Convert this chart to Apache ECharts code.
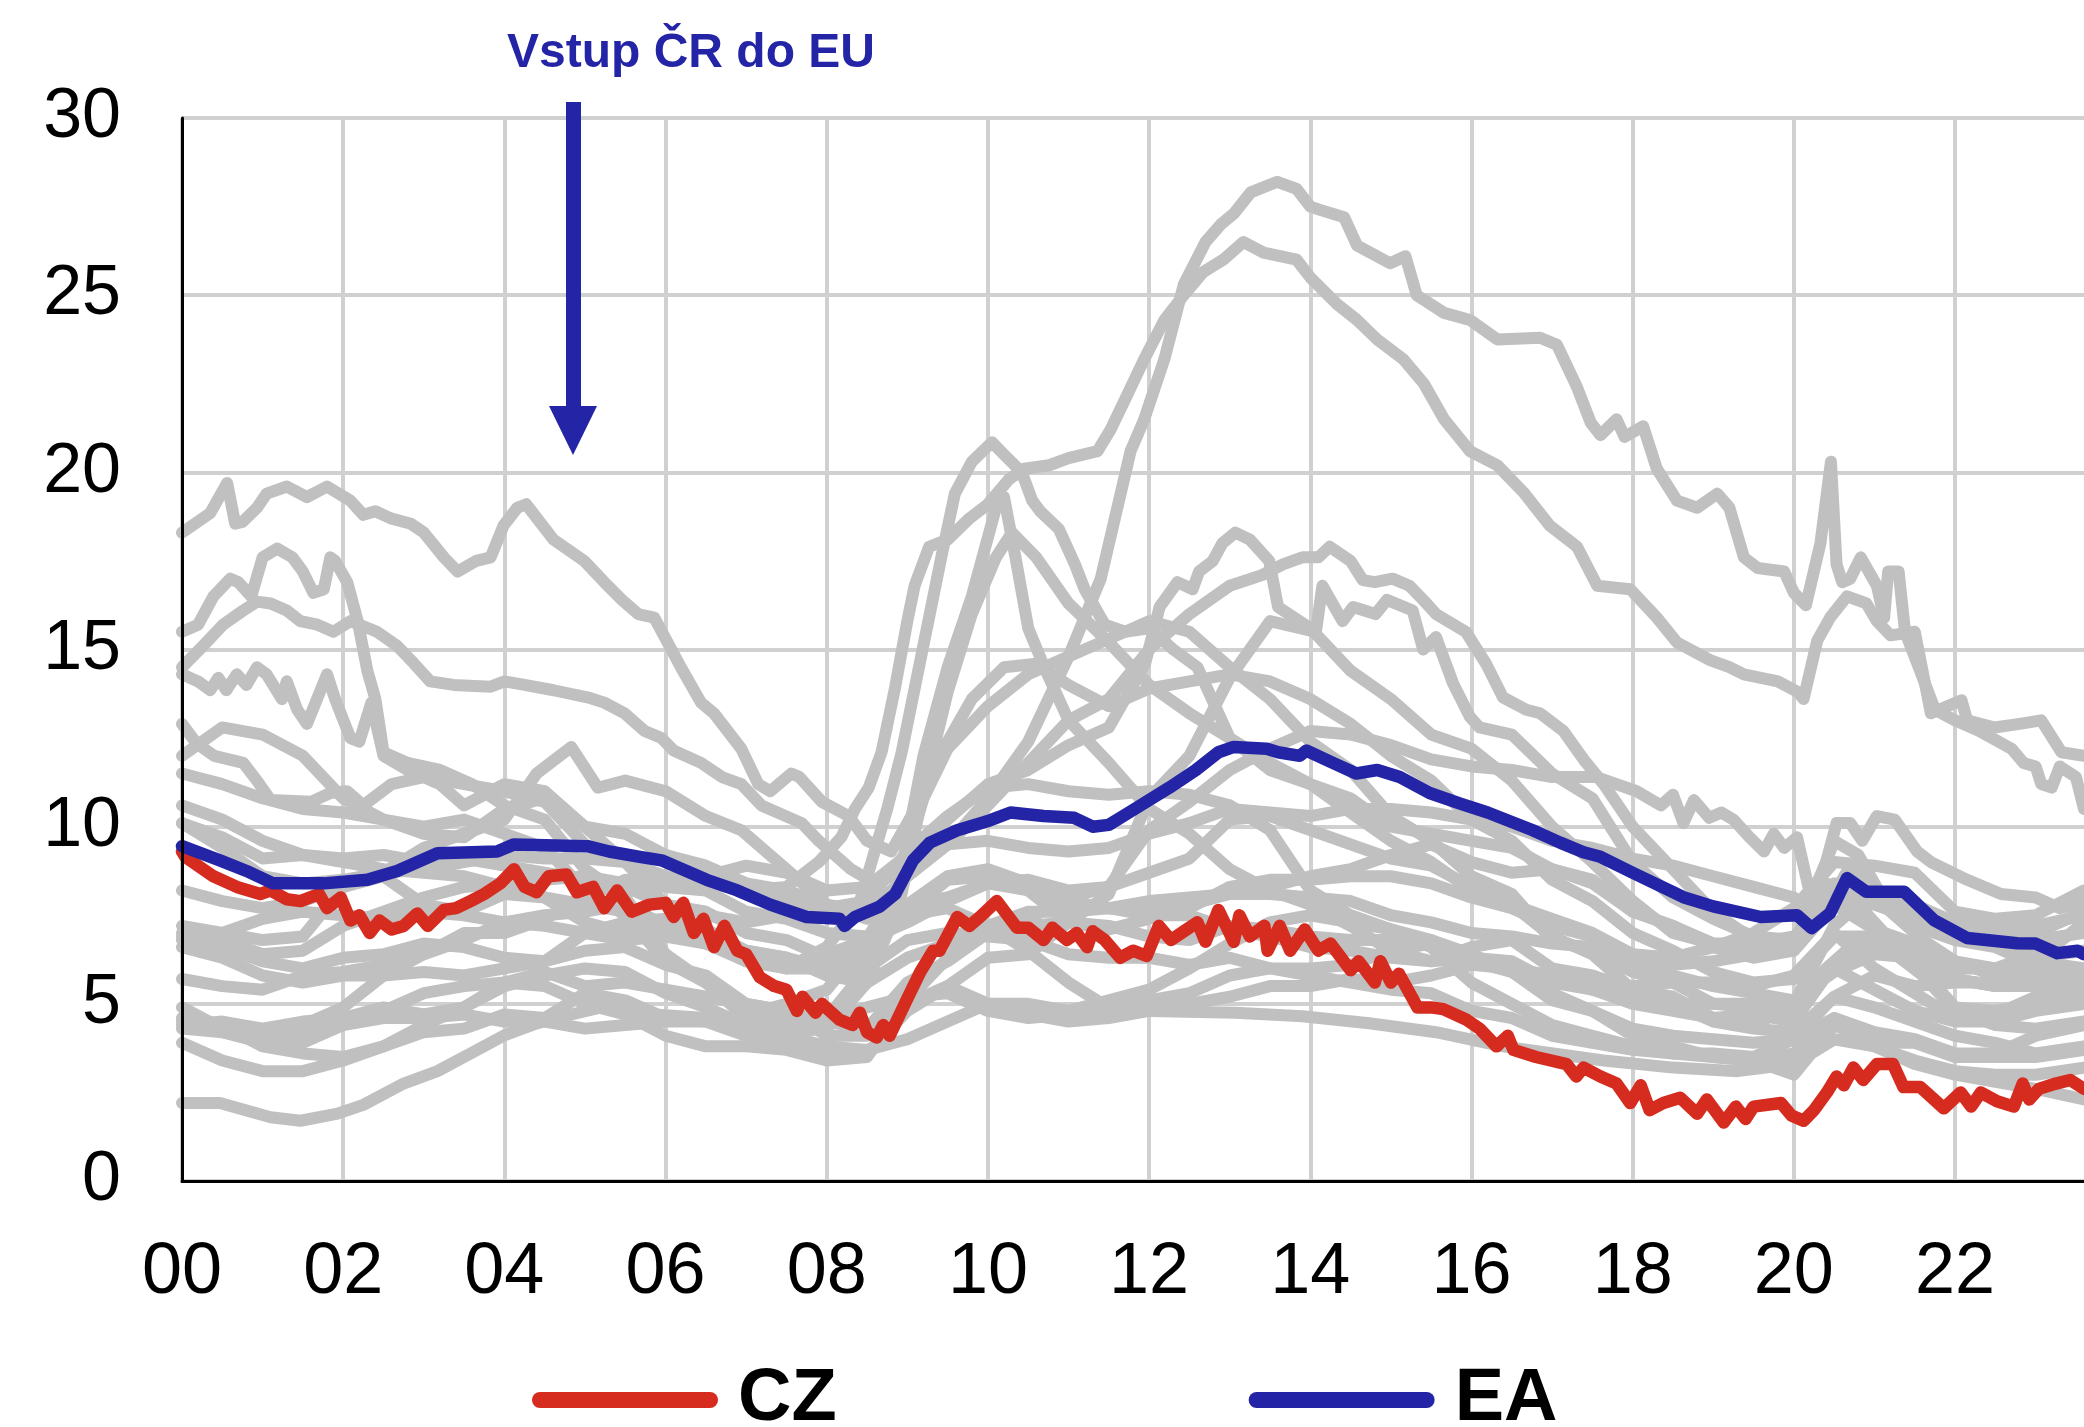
<!DOCTYPE html>
<html>
<head>
<meta charset="utf-8">
<script src="https://cdn.jsdelivr.net/npm/echarts@6.0.0/dist/echarts.min.js"></script>
<style>
  html, body { margin: 0; padding: 0; background: #fff; }
  #main { width: 2084px; height: 1427px; }
</style>
</head>
<body>
<div id="main"></div>
<script>
// nezaměstnanost v zemích EU, CZ a EA (rok, %)
const czLine = [[2000.0,9.3],[2000.04,9.15],[2000.39,8.6],[2000.68,8.3],[2000.97,8.1],[2001.1,8.2],[2001.3,7.95],[2001.47,7.9],[2001.7,8.1],[2001.8,7.7],[2001.97,8.0],[2002.09,7.35],[2002.2,7.5],[2002.33,7.0],[2002.45,7.35],[2002.6,7.1],[2002.75,7.2],[2002.92,7.55],[2003.05,7.2],[2003.25,7.65],[2003.4,7.7],[2003.58,7.9],[2003.75,8.1],[2003.95,8.4],[2004.12,8.8],[2004.25,8.3],[2004.4,8.15],[2004.55,8.6],[2004.77,8.65],[2004.9,8.15],[2005.1,8.3],[2005.24,7.7],[2005.4,8.2],[2005.58,7.6],[2005.8,7.8],[2006.0,7.85],[2006.1,7.45],[2006.22,7.85],[2006.35,7.0],[2006.47,7.4],[2006.6,6.6],[2006.73,7.2],[2006.89,6.5],[2007.0,6.4],[2007.17,5.75],[2007.35,5.5],[2007.5,5.4],[2007.63,4.8],[2007.7,5.2],[2007.86,4.75],[2007.94,5.0],[2008.16,4.55],[2008.32,4.4],[2008.41,4.75],[2008.5,4.2],[2008.62,4.05],[2008.7,4.4],[2008.78,4.1],[2008.99,5.1],[2009.16,5.9],[2009.32,6.5],[2009.4,6.5],[2009.62,7.45],[2009.77,7.2],[2009.9,7.45],[2010.11,7.9],[2010.36,7.15],[2010.5,7.15],[2010.69,6.8],[2010.8,7.15],[2010.98,6.8],[2011.1,7.0],[2011.23,6.6],[2011.3,7.05],[2011.45,6.8],[2011.64,6.3],[2011.8,6.5],[2011.97,6.35],[2012.12,7.2],[2012.27,6.8],[2012.4,7.0],[2012.6,7.3],[2012.7,6.75],[2012.86,7.65],[2013.05,6.75],[2013.12,7.5],[2013.25,6.9],[2013.43,7.2],[2013.47,6.5],[2013.62,7.2],[2013.75,6.5],[2013.93,7.1],[2014.1,6.5],[2014.25,6.7],[2014.5,5.95],[2014.6,6.2],[2014.8,5.6],[2014.87,6.2],[2015.0,5.6],[2015.1,5.85],[2015.33,4.9],[2015.5,4.9],[2015.65,4.85],[2015.94,4.55],[2016.1,4.3],[2016.31,3.8],[2016.45,4.1],[2016.52,3.7],[2016.8,3.5],[2017.18,3.3],[2017.3,2.95],[2017.39,3.2],[2017.6,2.95],[2017.8,2.75],[2017.97,2.2],[2018.1,2.7],[2018.21,2.0],[2018.38,2.2],[2018.59,2.35],[2018.8,1.9],[2018.92,2.3],[2019.13,1.65],[2019.28,2.1],[2019.4,1.75],[2019.5,2.1],[2019.84,2.2],[2019.97,1.85],[2020.12,1.7],[2020.25,2.0],[2020.41,2.5],[2020.53,2.95],[2020.62,2.7],[2020.74,3.2],[2020.86,2.85],[2021.03,3.3],[2021.23,3.3],[2021.36,2.65],[2021.57,2.65],[2021.74,2.3],[2021.86,2.05],[2022.07,2.5],[2022.2,2.1],[2022.32,2.5],[2022.52,2.25],[2022.73,2.1],[2022.84,2.75],[2022.92,2.3],[2023.04,2.6],[2023.25,2.75],[2023.43,2.85],[2023.6,2.6]];

const eaLine = [[2000.0,9.45],[2000.47,9.05],[2000.8,8.75],[2001.13,8.4],[2001.76,8.4],[2002.3,8.5],[2002.67,8.75],[2003.17,9.25],[2003.91,9.3],[2004.12,9.5],[2005.03,9.45],[2005.3,9.3],[2005.68,9.15],[2005.95,9.05],[2006.51,8.5],[2006.89,8.2],[2007.3,7.8],[2007.75,7.45],[2008.16,7.4],[2008.22,7.2],[2008.35,7.45],[2008.66,7.75],[2008.85,8.1],[2009.07,9.05],[2009.28,9.55],[2009.62,9.9],[2009.99,10.15],[2010.28,10.4],[2010.69,10.3],[2011.07,10.25],[2011.3,10.0],[2011.5,10.05],[2011.75,10.4],[2012.25,11.1],[2012.58,11.6],[2012.86,12.1],[2013.05,12.25],[2013.46,12.2],[2013.6,12.1],[2013.87,12.0],[2013.95,12.15],[2014.28,11.8],[2014.57,11.5],[2014.83,11.6],[2015.11,11.4],[2015.48,10.95],[2015.86,10.65],[2016.2,10.4],[2016.76,9.9],[2017.1,9.55],[2017.39,9.28],[2017.6,9.15],[2018.0,8.7],[2018.63,8.01],[2019.0,7.75],[2019.59,7.45],[2020.04,7.5],[2020.22,7.14],[2020.45,7.56],[2020.66,8.55],[2020.9,8.16],[2021.37,8.16],[2021.74,7.36],[2022.15,6.86],[2022.77,6.71],[2023.0,6.7],[2023.27,6.43],[2023.52,6.5],[2023.6,6.4]];

const skLine = [[2000.0,18.3],[2000.35,18.85],[2000.56,19.7],[2000.66,18.55],[2000.75,18.6],[2000.93,19.0],[2001.05,19.4],[2001.3,19.6],[2001.55,19.3],[2001.8,19.6],[2002.09,19.2],[2002.25,18.8],[2002.4,18.9],[2002.59,18.7],[2002.84,18.55],[2003.0,18.3],[2003.25,17.6],[2003.42,17.2],[2003.65,17.5],[2003.83,17.6],[2003.99,18.5],[2004.16,19.0],[2004.27,19.1],[2004.61,18.1],[2004.99,17.5],[2005.24,16.9],[2005.46,16.4],[2005.66,16.0],[2005.86,15.9],[2006.19,14.5],[2006.44,13.5],[2006.6,13.2],[2006.94,12.2],[2007.15,11.2],[2007.3,11.0],[2007.56,11.5],[2007.66,11.4],[2007.94,10.7],[2008.27,10.3],[2008.5,9.6],[2008.8,9.3],[2009.1,10.5],[2009.4,12.0],[2009.8,13.6],[2010.2,14.5],[2010.6,14.6],[2011.0,14.0],[2011.5,13.4],[2012.0,13.9],[2012.5,14.1],[2013.0,14.3],[2013.5,14.1],[2014.0,13.6],[2014.5,12.9],[2015.0,12.0],[2015.5,11.3],[2016.0,10.2],[2016.5,9.6],[2017.0,8.5],[2017.5,7.9],[2018.0,7.0],[2018.5,6.5],[2019.0,5.9],[2019.5,5.6],[2020.0,5.7],[2020.5,6.9],[2021.0,6.9],[2021.5,6.7],[2022.0,6.2],[2022.5,6.0],[2023.0,5.8],[2023.6,5.8]];

const ltLine = [[2000.0,15.5],[2000.2,15.7],[2000.39,16.5],[2000.6,17.0],[2000.7,16.9],[2000.86,16.5],[2001.0,17.6],[2001.18,17.85],[2001.37,17.6],[2001.5,17.2],[2001.63,16.6],[2001.76,16.7],[2001.84,17.6],[2001.9,17.5],[2002.05,16.9],[2002.18,15.8],[2002.3,14.4],[2002.4,13.6],[2002.5,12.1],[2002.8,11.8],[2003.2,11.6],[2003.6,11.2],[2004.0,10.6],[2004.5,10.2],[2005.0,8.8],[2005.5,8.0],[2006.0,6.4],[2006.5,5.6],[2007.0,4.6],[2007.5,4.2],[2008.0,4.3],[2008.5,5.6],[2008.9,7.8],[2009.2,11.0],[2009.5,13.8],[2009.8,16.0],[2010.1,17.6],[2010.3,18.3],[2010.6,17.6],[2011.0,16.3],[2011.5,15.2],[2012.0,14.0],[2012.5,13.2],[2013.0,12.5],[2013.5,11.6],[2014.0,11.2],[2014.5,10.4],[2015.0,9.6],[2015.5,9.0],[2016.0,8.2],[2016.5,7.8],[2017.0,7.4],[2017.5,7.0],[2018.0,6.4],[2018.5,6.1],[2019.0,6.2],[2019.5,6.4],[2020.0,6.6],[2020.5,9.6],[2020.8,9.2],[2021.2,7.6],[2021.6,6.8],[2022.0,6.2],[2022.5,5.8],[2023.0,6.8],[2023.6,7.0]];

const hrLine = [[2000.0,14.5],[2000.26,15.1],[2000.51,15.7],[2000.76,16.1],[2000.93,16.35],[2001.1,16.3],[2001.3,16.1],[2001.47,15.8],[2001.68,15.7],[2001.88,15.5],[2002.09,15.8],[2002.42,15.5],[2002.67,15.1],[2002.88,14.6],[2003.08,14.1],[2003.37,14.0],[2003.83,13.95],[2004.0,14.1],[2004.25,14.0],[2004.61,13.85],[2005.03,13.65],[2005.24,13.5],[2005.49,13.2],[2005.74,12.7],[2005.95,12.5],[2006.1,12.15],[2006.44,11.8],[2006.7,11.4],[2006.94,11.2],[2007.19,10.6],[2007.69,10.1],[2007.9,9.6],[2008.3,8.8],[2008.6,8.4],[2009.0,8.8],[2009.5,9.5],[2010.0,10.6],[2010.5,11.8],[2011.0,13.0],[2011.5,13.6],[2012.0,15.0],[2012.5,16.0],[2013.0,16.8],[2013.4,17.1],[2013.66,17.4],[2013.9,17.6],[2014.1,17.6],[2014.24,17.9],[2014.5,17.5],[2014.65,16.96],[2014.8,16.9],[2015.02,17.0],[2015.23,16.8],[2015.4,16.4],[2015.56,16.0],[2015.93,15.5],[2016.18,14.6],[2016.39,13.65],[2016.68,13.3],[2016.85,13.2],[2017.14,12.7],[2017.39,11.9],[2017.64,11.2],[2018.0,10.0],[2018.5,8.8],[2019.0,7.6],[2019.5,6.8],[2020.0,6.8],[2020.5,7.8],[2021.0,7.8],[2021.5,7.4],[2022.0,7.0],[2022.5,6.7],[2023.0,6.2],[2023.6,6.0]];

const lvLine = [[2000.0,14.3],[2000.2,14.1],[2000.35,13.85],[2000.45,14.2],[2000.55,13.85],[2000.68,14.3],[2000.8,14.0],[2000.93,14.5],[2001.05,14.3],[2001.24,13.6],[2001.3,14.1],[2001.43,13.3],[2001.55,12.9],[2001.8,14.3],[2001.9,13.6],[2002.09,12.5],[2002.2,12.4],[2002.35,13.5],[2002.5,12.0],[2002.8,11.6],[2003.2,11.2],[2003.5,10.6],[2004.0,11.2],[2004.5,11.0],[2005.0,10.0],[2005.5,9.0],[2006.0,7.8],[2006.5,7.0],[2007.0,6.2],[2007.5,6.0],[2008.0,6.6],[2008.4,7.8],[2008.75,10.5],[2008.93,12.1],[2009.18,14.9],[2009.43,17.7],[2009.59,19.4],[2009.8,20.3],[2010.05,20.85],[2010.2,20.5],[2010.42,20.0],[2010.55,19.2],[2010.65,18.9],[2010.88,18.4],[2011.08,17.4],[2011.2,16.7],[2011.45,15.7],[2011.7,15.5],[2012.0,15.6],[2012.3,15.0],[2012.6,14.5],[2013.0,12.5],[2013.5,11.8],[2014.0,11.2],[2014.5,10.8],[2015.0,10.0],[2015.5,9.8],[2016.0,9.6],[2016.5,9.4],[2017.0,8.8],[2017.5,8.5],[2018.0,7.6],[2018.5,7.2],[2019.0,6.6],[2019.5,6.3],[2020.0,6.5],[2020.4,8.4],[2020.8,8.0],[2021.3,7.6],[2021.8,7.3],[2022.3,7.0],[2022.8,6.7],[2023.3,6.4],[2023.6,6.5]];

const esLine = [[2000.0,12.9],[2000.18,12.35],[2000.4,12.0],[2000.76,11.8],[2000.93,11.3],[2001.1,10.75],[2001.6,10.7],[2001.84,10.95],[2002.05,11.0],[2002.25,10.6],[2002.6,11.2],[2003.0,11.4],[2003.5,11.2],[2004.0,11.0],[2004.5,10.7],[2005.0,9.5],[2005.5,9.0],[2006.0,8.6],[2006.5,8.4],[2007.0,8.2],[2007.5,8.3],[2007.9,9.0],[2008.18,9.7],[2008.35,10.5],[2008.52,11.1],[2008.68,12.1],[2008.85,13.95],[2009.0,15.8],[2009.09,16.8],[2009.27,17.9],[2009.5,18.1],[2009.77,18.7],[2010.0,19.1],[2010.26,19.8],[2010.45,20.1],[2010.76,20.2],[2011.0,20.4],[2011.36,20.6],[2011.52,21.2],[2011.69,22.0],[2011.94,23.2],[2012.19,24.3],[2012.43,25.0],[2012.67,25.65],[2012.92,26.0],[2013.17,26.5],[2013.42,26.2],[2013.83,26.0],[2014.0,25.5],[2014.33,24.75],[2014.58,24.3],[2014.83,23.75],[2015.15,23.2],[2015.41,22.5],[2015.66,21.5],[2015.98,20.6],[2016.32,20.2],[2016.64,19.45],[2016.97,18.5],[2017.31,17.9],[2017.56,16.8],[2017.97,16.7],[2018.3,15.9],[2018.55,15.2],[2018.96,14.7],[2019.2,14.5],[2019.38,14.3],[2019.8,14.1],[2020.05,13.8],[2020.12,13.6],[2020.29,15.25],[2020.45,15.9],[2020.66,16.5],[2020.9,16.3],[2021.03,15.8],[2021.2,15.4],[2021.5,15.5],[2021.7,13.2],[2022.08,13.57],[2022.15,13.0],[2022.49,12.8],[2022.8,12.9],[2023.07,13.0],[2023.32,12.1],[2023.6,12.0]];

const elLine = [[2000.0,11.5],[2000.5,11.2],[2001.0,10.8],[2001.5,10.5],[2002.0,10.4],[2002.5,10.2],[2003.0,9.8],[2003.5,9.7],[2004.0,10.5],[2004.5,10.8],[2005.0,10.0],[2005.5,9.8],[2006.0,9.2],[2006.5,8.8],[2007.0,8.4],[2007.5,8.2],[2008.0,7.8],[2008.5,7.6],[2009.0,8.6],[2009.5,9.5],[2010.0,10.8],[2010.5,12.4],[2011.0,14.8],[2011.4,17.0],[2011.77,20.6],[2011.94,21.5],[2012.19,23.2],[2012.43,25.3],[2012.7,26.5],[2012.89,27.0],[2013.05,27.3],[2013.26,27.9],[2013.59,28.2],[2013.83,28.0],[2014.0,27.5],[2014.13,27.4],[2014.42,27.2],[2014.58,26.4],[2014.99,25.9],[2015.18,26.1],[2015.32,25.0],[2015.66,24.5],[2015.98,24.3],[2016.32,23.75],[2016.85,23.8],[2017.06,23.6],[2017.31,22.4],[2017.48,21.4],[2017.6,21.05],[2017.8,21.5],[2017.9,21.0],[2018.13,21.3],[2018.3,20.1],[2018.55,19.2],[2018.8,19.0],[2019.05,19.4],[2019.2,19.0],[2019.38,17.6],[2019.55,17.3],[2019.88,17.2],[2020.0,16.6],[2020.15,16.25],[2020.33,18.0],[2020.46,20.3],[2020.53,17.4],[2020.6,16.9],[2020.7,17.0],[2020.83,17.6],[2021.03,16.8],[2021.12,15.9],[2021.17,17.2],[2021.3,17.2],[2021.38,15.5],[2021.55,14.5],[2021.75,13.3],[2022.0,13.0],[2022.3,12.7],[2022.7,12.2],[2022.85,11.8],[2023.0,11.7],[2023.07,11.2],[2023.2,11.1],[2023.3,11.7],[2023.5,11.4],[2023.6,10.5]];

const eeLine = [[2000.0,12.0],[2000.5,12.8],[2001.0,12.6],[2001.5,12.0],[2002.0,10.8],[2002.5,10.2],[2003.0,10.0],[2003.5,10.2],[2004.0,9.8],[2004.5,9.4],[2005.0,8.2],[2005.5,7.5],[2006.0,6.2],[2006.5,5.6],[2007.0,4.8],[2007.5,4.5],[2008.0,4.6],[2008.5,6.0],[2008.9,8.5],[2009.2,12.0],[2009.5,14.5],[2009.8,16.5],[2010.1,19.0],[2010.2,19.3],[2010.35,17.5],[2010.5,15.6],[2010.7,14.5],[2011.0,13.0],[2011.5,11.8],[2012.0,10.5],[2012.5,9.8],[2013.0,8.8],[2013.5,8.2],[2014.0,7.8],[2014.5,7.2],[2015.0,6.5],[2015.5,6.2],[2016.0,6.6],[2016.5,6.8],[2017.0,6.0],[2017.5,5.8],[2018.0,5.4],[2018.5,5.2],[2019.0,4.6],[2019.5,4.4],[2020.0,5.0],[2020.5,7.2],[2020.8,7.8],[2021.2,6.8],[2021.7,6.0],[2022.0,5.7],[2022.5,5.5],[2023.0,6.2],[2023.6,7.3]];

const ptLine = [[2000.0,4.9],[2000.5,4.3],[2001.0,4.2],[2001.5,4.4],[2002.0,4.9],[2002.5,5.8],[2003.0,6.4],[2003.5,7.0],[2004.0,7.0],[2004.5,7.4],[2005.0,8.0],[2005.5,8.5],[2006.0,8.4],[2006.5,8.6],[2007.0,8.9],[2007.5,8.7],[2008.0,8.2],[2008.5,8.3],[2009.0,9.2],[2009.5,10.2],[2010.0,11.2],[2010.5,11.6],[2011.0,12.3],[2011.5,12.8],[2011.95,14.6],[2012.13,16.2],[2012.35,16.9],[2012.54,16.7],[2012.62,17.2],[2012.79,17.5],[2012.91,18.0],[2013.07,18.3],[2013.25,18.1],[2013.37,17.8],[2013.49,17.5],[2013.6,16.2],[2014.0,15.6],[2014.5,14.4],[2015.0,13.6],[2015.5,12.6],[2016.0,12.2],[2016.5,11.3],[2017.0,10.0],[2017.5,9.0],[2018.0,7.9],[2018.5,7.0],[2019.0,6.7],[2019.5,6.5],[2020.0,6.5],[2020.5,7.8],[2021.0,7.1],[2021.5,6.7],[2022.0,6.0],[2022.5,6.0],[2023.0,6.4],[2023.6,6.5]];

const cyLine = [[2000.0,4.6],[2000.5,4.4],[2001.0,3.8],[2001.5,3.6],[2002.0,3.5],[2002.5,3.8],[2003.0,4.2],[2003.5,4.3],[2004.0,4.7],[2004.5,4.6],[2005.0,5.3],[2005.5,5.1],[2006.0,4.6],[2006.5,4.5],[2007.0,4.1],[2007.5,3.8],[2008.0,3.7],[2008.5,3.6],[2009.0,4.8],[2009.5,5.5],[2010.0,6.3],[2010.5,6.4],[2011.0,7.3],[2011.5,8.1],[2012.0,10.8],[2012.5,12.0],[2013.0,14.2],[2013.5,15.8],[2014.07,15.5],[2014.15,16.8],[2014.4,15.8],[2014.53,16.2],[2014.81,16.0],[2014.95,16.4],[2015.27,16.1],[2015.4,15.0],[2015.56,15.35],[2015.77,14.05],[2015.98,13.1],[2016.1,12.8],[2016.5,12.6],[2017.0,11.5],[2017.5,10.8],[2018.0,9.0],[2018.5,8.0],[2019.0,7.4],[2019.5,6.9],[2020.0,6.8],[2020.5,8.4],[2021.0,7.9],[2021.5,7.2],[2022.0,6.8],[2022.5,6.6],[2023.0,6.1],[2023.6,5.9]];

const ieLine = [[2000.0,4.3],[2000.5,4.2],[2001.0,3.9],[2001.5,3.9],[2002.0,4.4],[2002.5,4.6],[2003.0,4.6],[2003.5,4.7],[2004.0,4.5],[2004.5,4.5],[2005.0,4.3],[2005.5,4.4],[2006.0,4.5],[2006.5,4.5],[2007.0,4.7],[2007.5,5.0],[2008.0,5.4],[2008.5,6.8],[2008.9,8.5],[2009.2,10.8],[2009.5,12.2],[2010.0,13.4],[2010.5,14.3],[2011.0,14.8],[2011.5,15.3],[2012.0,15.8],[2012.5,15.5],[2013.0,14.5],[2013.5,13.6],[2014.0,12.4],[2014.5,11.6],[2015.0,10.3],[2015.5,9.6],[2016.0,8.6],[2016.5,8.1],[2017.0,6.8],[2017.5,6.5],[2018.0,5.9],[2018.5,5.6],[2019.0,5.0],[2019.5,4.9],[2020.0,4.8],[2020.4,6.0],[2020.8,6.8],[2021.2,6.5],[2021.6,5.8],[2022.0,4.8],[2022.5,4.4],[2023.0,4.3],[2023.6,4.5]];

const itLine = [[2000.0,10.6],[2000.5,10.2],[2001.0,9.6],[2001.5,9.2],[2002.0,9.0],[2002.5,8.8],[2003.0,8.7],[2003.5,8.6],[2004.0,8.3],[2004.5,8.0],[2005.0,7.8],[2005.5,7.6],[2006.0,7.1],[2006.5,6.7],[2007.0,6.2],[2007.5,6.1],[2008.0,6.4],[2008.5,6.8],[2009.0,7.3],[2009.5,7.9],[2010.0,8.4],[2010.5,8.5],[2011.0,8.2],[2011.5,8.3],[2012.0,9.9],[2012.5,10.7],[2013.0,11.6],[2013.5,12.2],[2014.0,12.7],[2014.5,12.6],[2015.0,12.3],[2015.5,11.9],[2016.0,11.7],[2016.5,11.6],[2017.0,11.4],[2017.55,11.4],[2018.05,11.0],[2018.35,10.6],[2018.5,10.9],[2018.63,10.1],[2018.76,10.75],[2018.95,10.25],[2019.1,10.4],[2019.25,10.2],[2019.45,9.7],[2019.63,9.3],[2019.75,9.8],[2019.88,9.4],[2020.04,9.7],[2020.21,8.0],[2020.4,9.0],[2020.53,10.1],[2020.7,10.1],[2020.85,9.6],[2021.03,10.3],[2021.25,10.2],[2021.53,9.3],[2021.7,9.0],[2022.15,8.5],[2022.57,8.1],[2023.0,8.0],[2023.3,7.7],[2023.6,7.85]];

const frLine = [[2000.0,10.1],[2000.5,9.4],[2001.0,8.6],[2001.5,8.4],[2002.0,8.5],[2002.5,8.7],[2003.0,8.8],[2003.5,9.0],[2004.0,9.2],[2004.5,9.1],[2005.0,9.1],[2005.5,9.0],[2006.0,9.2],[2006.5,8.9],[2007.0,8.4],[2007.5,8.0],[2008.0,7.5],[2008.5,7.5],[2009.0,8.6],[2009.5,9.5],[2010.0,9.6],[2010.5,9.4],[2011.0,9.3],[2011.5,9.4],[2012.0,9.8],[2012.5,10.1],[2013.0,10.5],[2013.5,10.4],[2014.0,10.3],[2014.5,10.5],[2015.0,10.5],[2015.5,10.4],[2016.0,10.2],[2016.5,10.0],[2017.0,9.6],[2017.5,9.4],[2018.0,9.1],[2018.5,8.9],[2019.0,8.6],[2019.5,8.3],[2020.0,8.0],[2020.3,7.3],[2020.7,8.9],[2021.0,8.0],[2021.5,7.8],[2022.0,7.3],[2022.5,7.2],[2023.0,7.2],[2023.6,7.5]];

const fiLine = [[2000.0,10.1],[2000.5,9.7],[2001.0,9.1],[2001.5,9.2],[2002.0,9.1],[2002.5,9.2],[2003.0,9.0],[2003.5,9.1],[2004.0,8.9],[2004.5,8.7],[2005.0,8.5],[2005.5,8.3],[2006.0,7.8],[2006.5,7.6],[2007.0,7.0],[2007.5,6.8],[2008.0,6.3],[2008.5,6.4],[2009.0,7.6],[2009.5,8.5],[2010.0,8.6],[2010.5,8.3],[2011.0,7.9],[2011.5,7.7],[2012.0,7.6],[2012.5,7.8],[2013.0,8.1],[2013.5,8.3],[2014.0,8.6],[2014.5,8.8],[2015.0,9.2],[2015.5,9.5],[2016.0,9.0],[2016.5,8.7],[2017.0,8.8],[2017.5,8.4],[2018.0,7.6],[2018.5,7.2],[2019.0,6.7],[2019.5,6.7],[2020.0,6.9],[2020.5,8.0],[2021.0,7.9],[2021.5,7.5],[2022.0,6.9],[2022.5,6.9],[2023.0,7.0],[2023.6,7.6]];

const deLine = [[2000.0,8.2],[2000.5,7.9],[2001.0,7.7],[2001.5,7.9],[2002.0,8.3],[2002.5,8.7],[2003.0,9.4],[2003.5,9.8],[2004.0,10.2],[2004.4,11.5],[2004.83,12.25],[2005.16,11.1],[2005.5,11.3],[2006.0,11.0],[2006.5,10.3],[2006.94,9.9],[2007.5,8.8],[2008.0,7.8],[2008.5,7.4],[2009.0,7.5],[2009.5,7.7],[2010.0,7.2],[2010.5,6.5],[2011.0,5.6],[2011.42,5.0],[2012.0,4.8],[2013.07,4.75],[2013.9,4.65],[2014.73,4.45],[2015.56,4.2],[2016.39,3.8],[2017.64,3.4],[2018.5,3.2],[2019.3,3.1],[2020.0,3.3],[2020.5,4.0],[2021.0,3.8],[2021.5,3.4],[2022.0,3.1],[2022.5,3.0],[2023.0,3.0],[2023.6,3.2]];

const beLine = [[2000.0,7.0],[2000.5,6.8],[2001.0,6.4],[2001.5,6.5],[2002.0,7.2],[2002.5,7.6],[2003.0,8.0],[2003.5,8.3],[2004.0,8.4],[2004.5,8.5],[2005.0,8.6],[2005.5,8.4],[2006.0,8.3],[2006.5,8.2],[2007.0,7.6],[2007.5,7.4],[2008.0,7.0],[2008.5,6.9],[2009.0,7.8],[2009.5,8.0],[2010.0,8.4],[2010.5,8.2],[2011.0,7.3],[2011.5,7.1],[2012.0,7.4],[2012.5,7.7],[2013.0,8.3],[2013.5,8.5],[2014.0,8.5],[2014.5,8.6],[2015.0,8.6],[2015.5,8.4],[2016.0,8.0],[2016.5,7.7],[2017.0,7.2],[2017.5,6.9],[2018.0,6.2],[2018.5,5.8],[2019.0,5.5],[2019.5,5.3],[2020.0,5.1],[2020.5,5.9],[2021.0,6.4],[2021.5,6.3],[2022.0,5.7],[2022.5,5.5],[2023.0,5.5],[2023.6,5.6]];

const nlLine = [[2000.0,3.9],[2000.5,3.4],[2001.0,3.1],[2001.5,3.1],[2002.0,3.4],[2002.5,3.8],[2003.0,4.4],[2003.5,4.9],[2004.0,5.5],[2004.5,5.8],[2005.0,6.0],[2005.5,5.9],[2006.0,5.3],[2006.5,4.9],[2007.0,4.4],[2007.5,4.1],[2008.0,3.8],[2008.5,3.7],[2009.0,4.0],[2009.5,4.5],[2010.0,5.0],[2010.5,5.0],[2011.0,4.8],[2011.5,5.1],[2012.0,5.4],[2012.5,6.0],[2013.0,6.7],[2013.5,7.3],[2014.0,7.5],[2014.5,7.3],[2015.0,7.1],[2015.5,6.8],[2016.0,6.4],[2016.5,5.9],[2017.0,5.3],[2017.5,4.8],[2018.0,4.1],[2018.5,3.8],[2019.0,3.5],[2019.5,3.4],[2020.0,3.0],[2020.5,4.4],[2021.0,3.9],[2021.5,3.9],[2022.0,3.5],[2022.5,3.5],[2023.0,3.5],[2023.6,3.7]];

const atLine = [[2000.0,4.5],[2000.5,4.2],[2001.0,4.0],[2001.5,4.2],[2002.0,4.6],[2002.5,4.9],[2003.0,4.7],[2003.5,4.9],[2004.0,5.6],[2004.5,5.9],[2005.0,5.5],[2005.5,5.6],[2006.0,5.4],[2006.5,5.2],[2007.0,5.0],[2007.5,4.8],[2008.0,4.1],[2008.5,4.1],[2009.0,5.0],[2009.5,5.5],[2010.0,5.0],[2010.5,4.7],[2011.0,4.5],[2011.5,4.6],[2012.0,4.8],[2012.5,5.0],[2013.0,5.2],[2013.5,5.5],[2014.0,5.5],[2014.5,5.7],[2015.0,5.6],[2015.5,5.8],[2016.0,6.1],[2016.5,6.0],[2017.0,5.7],[2017.5,5.4],[2018.0,5.0],[2018.5,4.8],[2019.0,4.6],[2019.5,4.7],[2020.0,4.5],[2020.5,6.1],[2021.0,6.8],[2021.5,6.2],[2022.0,4.9],[2022.5,4.8],[2023.0,5.0],[2023.6,5.3]];

const luLine = [[2000.0,2.2],[2000.47,2.2],[2001.1,1.8],[2001.47,1.7],[2001.93,1.9],[2002.25,2.15],[2002.75,2.75],[2003.17,3.1],[2003.58,3.6],[2003.99,4.1],[2004.4,4.45],[2004.83,4.7],[2005.2,4.9],[2005.86,4.7],[2006.5,4.6],[2007.0,4.3],[2007.5,4.1],[2008.0,4.5],[2008.5,4.9],[2009.0,5.2],[2009.5,5.3],[2010.0,4.8],[2010.5,4.6],[2011.0,4.7],[2011.5,4.9],[2012.0,5.1],[2012.5,5.3],[2013.0,5.8],[2013.5,6.0],[2014.0,6.0],[2014.5,6.1],[2015.0,6.5],[2015.5,6.7],[2016.0,6.3],[2016.5,6.2],[2017.0,5.6],[2017.5,5.4],[2018.0,5.5],[2018.5,5.6],[2019.0,5.6],[2019.5,5.5],[2020.0,5.8],[2020.5,7.0],[2021.0,6.0],[2021.5,5.3],[2022.0,4.6],[2022.5,4.7],[2023.0,5.2],[2023.6,5.6]];

const dkLine = [[2000.0,4.4],[2000.5,4.5],[2001.0,4.3],[2001.5,4.5],[2002.0,4.6],[2002.5,4.8],[2003.0,5.3],[2003.5,5.5],[2004.0,5.6],[2004.5,5.5],[2005.0,5.0],[2005.5,4.7],[2006.0,4.1],[2006.5,3.8],[2007.0,3.8],[2007.5,3.7],[2008.0,3.4],[2008.5,3.5],[2009.0,5.1],[2009.5,6.3],[2010.0,7.2],[2010.5,7.6],[2011.0,7.6],[2011.5,7.7],[2012.0,7.5],[2012.5,7.5],[2013.0,7.1],[2013.5,6.9],[2014.0,6.6],[2014.5,6.5],[2015.0,6.3],[2015.5,6.2],[2016.0,6.3],[2016.5,6.0],[2017.0,5.8],[2017.5,5.6],[2018.0,5.2],[2018.5,5.0],[2019.0,5.0],[2019.5,5.0],[2020.0,4.9],[2020.5,6.0],[2021.0,5.4],[2021.5,4.8],[2022.0,4.5],[2022.5,4.5],[2023.0,4.8],[2023.6,5.0]];

const seLine = [[2000.0,5.7],[2000.5,5.5],[2001.0,5.4],[2001.5,5.8],[2002.0,5.9],[2002.5,6.1],[2003.0,6.4],[2003.5,6.8],[2004.0,7.3],[2004.5,7.5],[2005.0,7.6],[2005.5,7.8],[2006.0,7.2],[2006.5,7.0],[2007.0,6.3],[2007.5,6.0],[2008.0,6.0],[2008.5,6.3],[2009.0,7.8],[2009.5,8.6],[2010.0,8.8],[2010.5,8.4],[2011.0,7.8],[2011.5,7.7],[2012.0,7.9],[2012.5,8.0],[2013.0,8.1],[2013.5,8.1],[2014.0,8.0],[2014.5,7.9],[2015.0,7.5],[2015.5,7.3],[2016.0,7.0],[2016.5,6.9],[2017.0,6.7],[2017.5,6.6],[2018.0,6.4],[2018.5,6.3],[2019.0,6.6],[2019.5,7.0],[2020.0,7.7],[2020.5,9.0],[2021.0,8.9],[2021.5,8.7],[2022.0,7.6],[2022.5,7.4],[2023.0,7.5],[2023.6,8.2]];

const siLine = [[2000.0,6.9],[2000.5,6.6],[2001.0,6.2],[2001.5,6.0],[2002.0,6.3],[2002.5,6.4],[2003.0,6.7],[2003.5,6.6],[2004.0,6.3],[2004.5,6.2],[2005.0,6.5],[2005.5,6.6],[2006.0,6.1],[2006.5,5.8],[2007.0,5.0],[2007.5,4.8],[2008.0,4.5],[2008.5,4.3],[2009.0,5.6],[2009.5,6.2],[2010.0,7.0],[2010.5,7.4],[2011.0,8.0],[2011.5,8.3],[2012.0,8.7],[2012.5,9.1],[2013.0,10.2],[2013.5,10.3],[2014.0,9.9],[2014.5,9.5],[2015.0,9.1],[2015.5,8.9],[2016.0,8.3],[2016.5,7.8],[2017.0,6.9],[2017.5,6.4],[2018.0,5.4],[2018.5,5.0],[2019.0,4.5],[2019.5,4.3],[2020.0,4.2],[2020.5,5.2],[2021.0,4.9],[2021.5,4.5],[2022.0,4.1],[2022.5,3.9],[2023.0,3.6],[2023.6,3.8]];

const huLine = [[2000.0,6.6],[2000.5,6.3],[2001.0,5.8],[2001.5,5.6],[2002.0,5.8],[2002.5,5.8],[2003.0,5.9],[2003.5,5.8],[2004.0,6.0],[2004.5,6.2],[2005.0,7.0],[2005.5,7.3],[2006.0,7.4],[2006.5,7.5],[2007.0,7.3],[2007.5,7.5],[2008.0,7.7],[2008.5,7.9],[2009.0,9.3],[2009.5,10.3],[2010.0,11.1],[2010.5,11.2],[2011.0,11.0],[2011.5,10.9],[2012.0,11.0],[2012.5,10.9],[2013.0,10.6],[2013.5,9.9],[2014.0,8.2],[2014.5,7.5],[2015.0,7.1],[2015.5,6.6],[2016.0,5.6],[2016.5,5.0],[2017.0,4.4],[2017.5,4.1],[2018.0,3.8],[2018.5,3.6],[2019.0,3.5],[2019.5,3.4],[2020.0,3.6],[2020.5,4.6],[2021.0,4.2],[2021.5,4.0],[2022.0,3.6],[2022.5,3.6],[2023.0,4.1],[2023.6,4.4]];

const mtLine = [[2000.0,6.8],[2000.5,7.0],[2001.0,7.4],[2001.5,7.6],[2002.0,7.5],[2002.5,7.4],[2003.0,7.6],[2003.5,7.5],[2004.0,7.3],[2004.5,7.2],[2005.0,7.0],[2005.5,6.8],[2006.0,6.9],[2006.5,6.7],[2007.0,6.5],[2007.5,6.3],[2008.0,6.0],[2008.5,6.0],[2009.0,6.8],[2009.5,7.0],[2010.0,6.9],[2010.5,6.8],[2011.0,6.4],[2011.5,6.3],[2012.0,6.3],[2012.5,6.1],[2013.0,6.3],[2013.5,6.0],[2014.0,5.8],[2014.5,5.6],[2015.0,5.4],[2015.5,5.3],[2016.0,4.8],[2016.5,4.6],[2017.0,4.1],[2017.5,3.9],[2018.0,3.7],[2018.5,3.6],[2019.0,3.6],[2019.5,3.5],[2020.0,4.0],[2020.5,4.6],[2021.0,3.8],[2021.5,3.3],[2022.0,3.0],[2022.5,2.8],[2023.0,2.6],[2023.6,2.3]];

const roLine = [[2000.0,7.2],[2000.5,7.0],[2001.0,6.8],[2001.5,6.9],[2002.0,8.3],[2002.5,8.6],[2003.0,7.8],[2003.5,7.6],[2004.0,8.1],[2004.5,8.0],[2005.0,7.3],[2005.5,7.0],[2006.0,7.3],[2006.5,7.1],[2007.0,6.5],[2007.5,6.3],[2008.0,5.8],[2008.5,5.6],[2009.0,6.3],[2009.5,6.7],[2010.0,7.0],[2010.5,7.2],[2011.0,7.3],[2011.5,7.2],[2012.0,6.9],[2012.5,6.8],[2013.0,7.2],[2013.5,7.1],[2014.0,6.9],[2014.5,6.8],[2015.0,6.8],[2015.5,6.8],[2016.0,6.2],[2016.5,5.9],[2017.0,5.1],[2017.5,4.8],[2018.0,4.3],[2018.5,4.1],[2019.0,4.0],[2019.5,3.9],[2020.0,4.0],[2020.5,5.2],[2021.0,5.8],[2021.5,5.5],[2022.0,5.6],[2022.5,5.6],[2023.0,5.6],[2023.6,5.4]];

const otherLines = [skLine, ltLine, hrLine, lvLine, esLine, elLine, eeLine, ptLine, cyLine, ieLine,
  itLine, frLine, fiLine, deLine, beLine, nlLine, atLine, luLine, dkLine, seLine, siLine, huLine, mtLine, roLine];

const yTicks = { min: 0, max: 30, step: 5 };
const xRange = { min: 2000, max: 2023.6, step: 2 };

const FONT = '"Liberation Sans", Arial, sans-serif';
const BLUE = '#2424a6';
const RED = '#d62b1f';
const GREY = '#c0c0c0';
const pill = 'path://M8,0 L178,0 A8,8 0 0 1 178,16 L8,16 A8,8 0 0 1 8,0 Z';

let chartDom = document.getElementById('main');
let myChart = echarts.init(chartDom, null, { renderer: 'canvas' });

let series = otherLines.map(function (d, i) {
  return {
    name: 'g' + i,
    type: 'line',
    data: d,
    showSymbol: false,
    symbol: 'none',
    silent: true,
    z: 2,
    lineStyle: { width: 12, color: GREY, cap: 'round', join: 'round' }
  };
});
series.push({
  name: 'CZ', type: 'line', data: czLine, showSymbol: false, symbol: 'none', z: 5,
  itemStyle: { color: RED },
  lineStyle: { width: 12.5, color: RED, cap: 'round', join: 'round' }
});
series.push({
  name: 'EA', type: 'line', data: eaLine, showSymbol: false, symbol: 'none', z: 6,
  itemStyle: { color: BLUE },
  lineStyle: { width: 12.5, color: BLUE, cap: 'round', join: 'round' }
});

let option = {
  animation: false,
  backgroundColor: '#fff',
  grid: { left: 182, top: 118, right: 0, bottom: 246, containLabel: false },
  legend: {
    data: [{ name: 'CZ', icon: pill }, { name: 'EA', icon: pill }],
    left: 532,
    top: 1363,
    padding: 0,
    itemWidth: 186,
    itemHeight: 16,
    itemGap: 412,
    textStyle: { fontSize: 74, fontWeight: 'bold', fontFamily: FONT, color: '#000', lineHeight: 74, padding: [0, 0, 0, 15] }
  },
  xAxis: [{
    type: 'value',
    min: xRange.min,
    max: xRange.max,
    interval: xRange.step,
    axisLine: { show: false },
    axisTick: { show: false },
    axisLabel: {
      margin: 56,
      fontSize: 72,
      fontFamily: FONT,
      color: '#000',
      showMaxLabel: false,
      formatter: function (v) { return String(Math.round(v) % 100).padStart(2, '0'); }
    },
    splitLine: { show: true, showMaxLine: false, lineStyle: { color: '#d0d0d0', width: 4 } }
  }, {
    type: 'value', min: xRange.min, max: xRange.max, position: 'bottom', z: 10,
    axisLine: { show: true, lineStyle: { color: '#000', width: 3 } },
    axisTick: { show: false }, axisLabel: { show: false }, splitLine: { show: false }
  }],
  yAxis: [{
    type: 'value',
    min: yTicks.min,
    max: yTicks.max,
    interval: yTicks.step,
    axisLine: { show: false },
    axisTick: { show: false },
    axisLabel: { margin: 61, fontSize: 70, fontFamily: FONT, color: '#000' },
    splitLine: { show: true, lineStyle: { color: '#d0d0d0', width: 4 } }
  }, {
    type: 'value', min: yTicks.min, max: yTicks.max, position: 'left', z: 10,
    axisLine: { show: true, lineStyle: { color: '#000', width: 3 } },
    axisTick: { show: false }, axisLabel: { show: false }, splitLine: { show: false }
  }],
  graphic: [
    {
      type: 'text', x: 691, y: 54, z: 20,
      style: { text: 'Vstup ČR do EU', fill: BLUE, font: 'bold 48px ' + FONT, align: 'center', verticalAlign: 'middle' }
    },
    { type: 'rect', z: 20, shape: { x: 566, y: 102, width: 15, height: 306 }, style: { fill: BLUE } },
    { type: 'polygon', z: 20, shape: { points: [[549, 406], [597, 406], [573, 455]] }, style: { fill: BLUE } }
  ],
  series: series
};
myChart.setOption(option);
</script>
</body>
</html>
